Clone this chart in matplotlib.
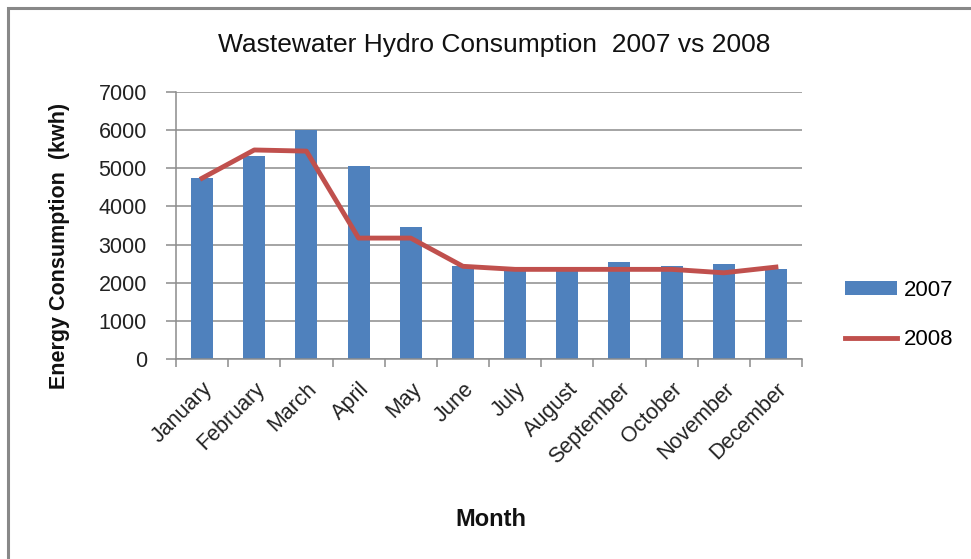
import numpy as np
import matplotlib.pyplot as plt
from matplotlib.patches import Rectangle

plt.rcParams['font.family'] = ['Liberation Sans', 'DejaVu Sans']

months = ['January', 'February', 'March', 'April', 'May', 'June', 'July',
          'August', 'September', 'October', 'November', 'December']
usage_2007 = [4750, 5330, 6000, 5060, 3450, 2430, 2360, 2360, 2530, 2430, 2500, 2360]
usage_2008 = [4740, 5480, 5450, 3170, 3170, 2430, 2350, 2350, 2350, 2350, 2260, 2410]
yticks = [0, 1000, 2000, 3000, 4000, 5000, 6000, 7000]

W, H = 971, 559
fig = plt.figure(figsize=(W / 100, H / 100), dpi=100)

# outer chart frame (only top and left visible in the crop)
fig.add_artist(Rectangle((8 / W, -0.1), 1.2, 1 - 8 / H + 0.1, transform=fig.transFigure,
                         fill=False, edgecolor='#888888', linewidth=2.2))

ax = fig.add_axes([176 / W, 1 - 359 / H, (802 - 176) / W, (359 - 92) / H])

x = np.arange(len(months))
bars = ax.bar(x, usage_2007, width=0.42, color='#4f81bd', label='2007', zorder=2)
line, = ax.plot(x, usage_2008, color='#c0504d', linewidth=3.5, label='2008', zorder=3,
                solid_joinstyle='round')

ax.set_xlim(-0.5, len(months) - 0.5)
ax.set_ylim(0, 7000)
ax.set_yticks(yticks)
ax.set_yticklabels([str(v) for v in yticks], fontsize=15.5, color='#222222')
ax.yaxis.grid(True, color='#8c8c8c', linewidth=1.1, zorder=0)
ax.set_axisbelow(True)

# category ticks between months
ax.set_xticks(np.arange(-0.5, len(months), 1.0))
ax.set_xticklabels([])
ax.set_xticks(x, minor=True)
ax.set_xticklabels(months, minor=True, rotation=45, ha='right', va='top',
                   rotation_mode='anchor', fontsize=15.5, color='#222222')
ax.tick_params(axis='x', which='minor', length=0, pad=14)
ax.tick_params(axis='x', which='major', length=6, color='#8c8c8c', width=1.1)
ax.tick_params(axis='y', length=7, color='#8c8c8c', width=1.1, pad=14)

for side in ['top', 'right']:
    ax.spines[side].set_visible(False)
for side in ['left', 'bottom']:
    ax.spines[side].set_color('#8c8c8c')
    ax.spines[side].set_linewidth(1.1)

fig.text(494 / W, 1 - 45 / H, 'Wastewater Hydro Consumption  2007 vs 2008',
         ha='center', va='center', fontsize=19, color='#111111')
fig.text(59 / W, 1 - 246 / H, 'Energy Consumption  (kwh)', rotation=90,
         ha='center', va='center', fontsize=15.5, fontweight='bold', color='#111111')
fig.text(491 / W, 1 - 520 / H, 'Month', ha='center', va='center',
         fontsize=17, fontweight='bold', color='#111111')

ax.legend(handles=[bars, line], loc='center left', bbox_to_anchor=(845 / W, 1 - 315 / H),
          bbox_transform=fig.transFigure, frameon=False, fontsize=16,
          borderaxespad=0, borderpad=0,
          handlelength=2.35, handleheight=0.6, labelspacing=1.3, handletextpad=0.3)

fig.savefig('out.png', dpi=100)
